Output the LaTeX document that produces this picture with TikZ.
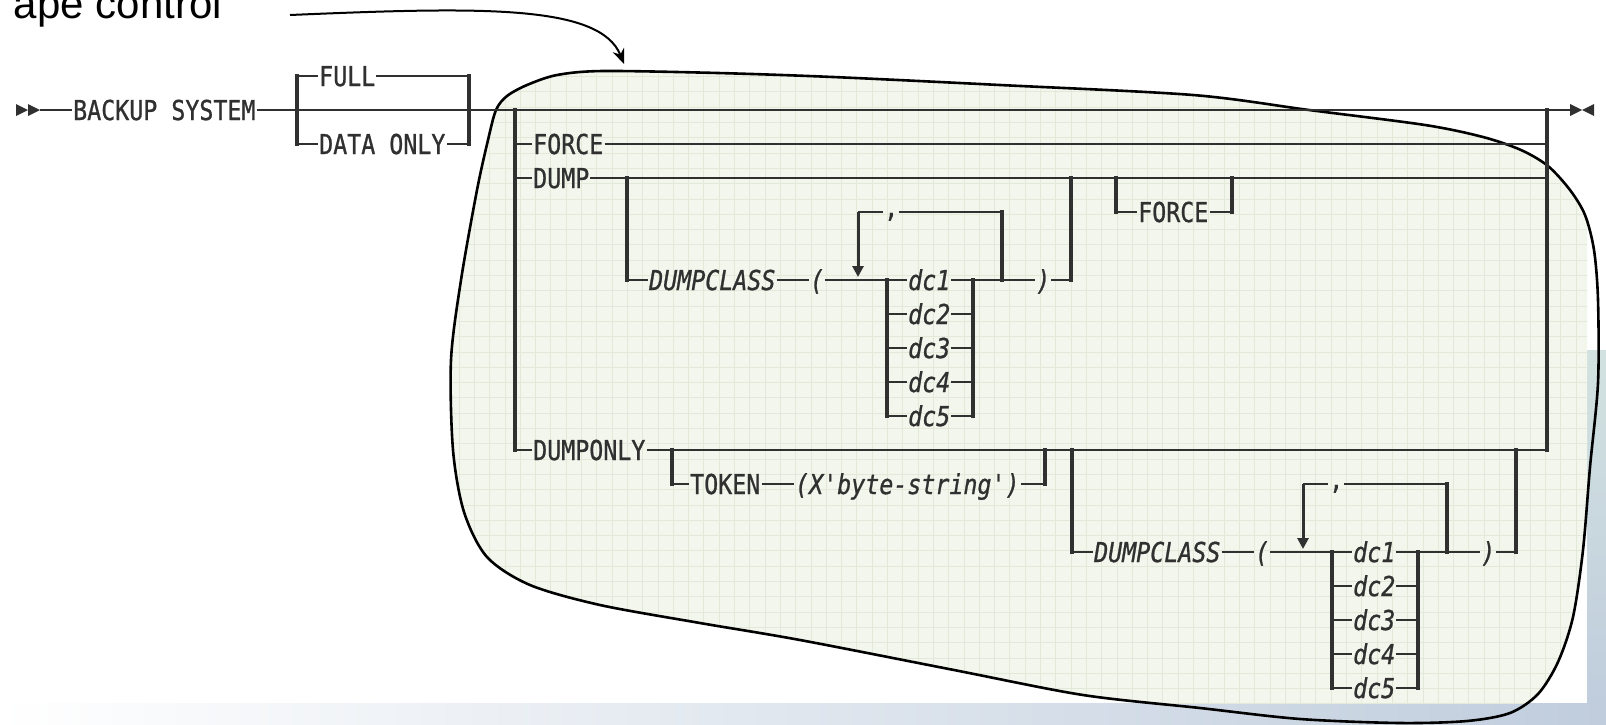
\documentclass[tikz,border=0pt]{standalone}
\usepackage{fontspec}
\setmainfont{Liberation Sans}
\newfontfamily\railfont{DejaVu Sans Mono}[FakeBold=1]
\usetikzlibrary{arrows.meta}

\definecolor{railgray}{HTML}{303030}
\definecolor{blobgreen}{HTML}{F3F6EC}
\definecolor{gridgreen}{HTML}{E2E9D8}
\definecolor{decoblue}{HTML}{C0CDDD}
\definecolor{decoteal}{HTML}{D2E2E0}

\newcommand{\kw}[1]{\scalebox{0.85}[1]{#1}}
\newcommand{\blobpath}{plot[smooth cycle, tension=0.5] coordinates {
  (496,110) (507,96) (527,85) (557,75) (603,71) (718,73) (833,77) (1000,85)
  (1193,95) (1309,110) (1425,125) (1483,137) (1521,150) (1548,166) (1570,190)
  (1585,215) (1594,250) (1598,300) (1598,383) (1590,467) (1583,550) (1573,617)
  (1558,662) (1538,694) (1510,713) (1467,721) (1400,723) (1300,719) (1200,708)
  (1083,695) (954,670) (800,640) (700,623) (600,605) (530,585) (487,557)
  (464,512) (453,450) (451,360) (461,280) (477,190) (488,140)}}

\tikzset{
  rail/.style={draw=railgray, line width=2pt},
  bar/.style={draw=railgray, line width=3.2pt, line cap=rect},
  kw/.style={inner xsep=1pt, inner ysep=0pt, text height=20pt, text depth=0pt,
    text=railgray, anchor=west, font=\railfont\fontsize{27.4pt}{27.4pt}\selectfont},
  var/.style={kw, font=\railfont\itshape\fontsize{27.4pt}{27.4pt}\selectfont},
  loopdown/.style={draw=railgray, line width=3pt, -{Triangle[length=11pt,width=11pt]}, shorten >=3pt},
}

\begin{document}
\begin{tikzpicture}[x=1pt, y=-1pt]
  \useasboundingbox (0,0) rectangle (1606,724);
  % Hintergrund
  \fill[white] (0,0) rectangle (1606,724);
  \shade[left color=white, right color=decoblue] (0,703) rectangle (1606,724);
  \shade[top color=decoteal, bottom color=decoblue] (1587,350) rectangle (1606,703);

  % Blase mit Raster
  \begin{scope}
    \clip (0,0) rectangle (1587,703);
    \fill[blobgreen] \blobpath;
    \clip \blobpath;
    \draw[gridgreen, line width=0.8pt, step=15.3pt] (420,45) grid (1606,724);
  \end{scope}
  \draw[black, line width=2.6pt] \blobpath;

  % Start und Ende
  \fill[railgray] (16,104) -- (28,110) -- (16,116) -- cycle;
  \fill[railgray] (28,104) -- (40,110) -- (28,116) -- cycle;
  \coordinate (start) at (40,110);
  \coordinate (stop) at (1570,110);
  \node[kw] (backup) at (72,110) {\kw{BACKUP SYSTEM}};
  \draw[rail] (start) -- (backup.west);
  \draw[rail] (backup.east) -- (stop);
  \fill[railgray] (1570,104) -- (1582,110) -- (1570,116) -- cycle;
  \fill[railgray] (1594,104) -- (1582,110) -- (1594,116) -- cycle;

  % FULL / DATA ONLY
  \coordinate (boxl) at (297,76);
  \coordinate (boxr) at (469,76);
  \node[kw] (full) at (318,76) {\kw{FULL}};
  \node[kw] (dataonly) at (318,144) {\kw{DATA ONLY}};
  \draw[bar] (boxl) -- (boxl |- dataonly);
  \draw[bar] (boxr) -- (boxr |- dataonly);
  \draw[rail] (boxl) -- (full.west);
  \draw[rail] (full.east) -- (boxr);
  \draw[rail] (boxl |- dataonly) -- (dataonly.west);
  \draw[rail] (dataonly.east) -- (boxr |- dataonly);

  % FORCE / DUMP / DUMPONLY
  \coordinate (gl) at (515,110);
  \coordinate (gr) at (1547,110);
  \node[kw] (force) at (532,144) {\kw{FORCE}};
  \node[kw] (dump) at (532,178) {\kw{DUMP}};
  \node[kw] (dumponly) at (532,450) {\kw{DUMPONLY}};
  \draw[bar] (gl) -- (gl |- dumponly);
  \draw[bar] (gr) -- (gr |- dumponly);
  \draw[rail] (gl |- force) -- (force.west);
  \draw[rail] (force.east) -- (gr |- force);
  \draw[rail] (gl |- dump) -- (dump.west);
  \draw[rail] (dump.east) -- (gr |- dump);
  \draw[rail] (gl |- dumponly) -- (dumponly.west);
  \draw[rail] (dumponly.east) -- (gr |- dumponly);

  % optionales FORCE nach DUMP
  \coordinate (fl) at (1116,178);
  \coordinate (fr) at (1232,178);
  \node[kw] (force2) at (1137,212) {\kw{FORCE}};
  \draw[bar] (fl) -- (fl |- force2);
  \draw[bar] (fr) -- (fr |- force2);
  \draw[rail] (fl |- force2) -- (force2.west);
  \draw[rail] (force2.east) -- (fr |- force2);

  % TOKEN
  \coordinate (tl) at (672,450);
  \coordinate (tr) at (1045,450);
  \node[kw] (token) at (689,484) {\kw{TOKEN}};
  \node[var] (bytes) at (794,484) {\kw{(X\textquotesingle byte-string\textquotesingle)}};
  \draw[bar] (tl) -- (tl |- token);
  \draw[bar] (tr) -- (tr |- bytes);
  \draw[rail] (tl |- token) -- (token.west);
  \draw[rail] (token.east) -- (bytes.west);
  \draw[rail] (bytes.east) -- (tr |- bytes);

  % DUMPCLASS unter DUMP
  \begin{scope}[shift={(627,178)}, name prefix=g1-]
    \coordinate (top) at (0,0);
    \coordinate (rtop) at (444,0);
    \coordinate (loopl) at (231,34);
    \coordinate (loopr) at (375,34);
    \coordinate (dcl) at (260,102);
    \coordinate (dcr) at (346,102);
    \node[var] (cls) at (21,102) {\kw{DUMPCLASS}};
    \node[var] (lp) at (182,102) {\kw{(}};
    \node[kw] (comma) at (256,29) {\kw{,}};
    \node[var] (dc1) at (280,102) {\kw{dc1}};
    \node[var] (dc2) at (280,136) {\kw{dc2}};
    \node[var] (dc3) at (280,170) {\kw{dc3}};
    \node[var] (dc4) at (280,204) {\kw{dc4}};
    \node[var] (dc5) at (280,238) {\kw{dc5}};
    \node[var] (rp) at (408,102) {\kw{)}};
    \draw[bar] (top) -- (top |- cls);
    \draw[rail] (top |- cls) -- (cls.west);
    \draw[rail] (cls.east) -- (lp.west);
    \draw[rail] (lp.east) -- (dc1.west);
    \draw[rail] (dc1.east) -- (rp.west);
    \draw[rail] (rp.east) -- (rtop |- rp);
    \draw[bar] (rtop |- rp) -- (rtop);
    % Wiederholung mit Komma
    \draw[rail] (loopl) -- (comma.west |- loopl);
    \draw[rail] (comma.east |- loopr) -- (loopr);
    \draw[bar] (loopr) -- (loopr |- rp);
    \draw[loopdown] (loopl) -- (loopl |- lp);
    % Auswahl dc1 bis dc5
    \draw[bar] (dcl) -- (dcl |- dc5);
    \draw[bar] (dcr) -- (dcr |- dc5);
    \draw[rail] (dcl |- dc2) -- (dc2.west);
    \draw[rail] (dc2.east) -- (dcr |- dc2);
    \draw[rail] (dcl |- dc3) -- (dc3.west);
    \draw[rail] (dc3.east) -- (dcr |- dc3);
    \draw[rail] (dcl |- dc4) -- (dc4.west);
    \draw[rail] (dc4.east) -- (dcr |- dc4);
    \draw[rail] (dcl |- dc5) -- (dc5.west);
    \draw[rail] (dc5.east) -- (dcr |- dc5);
  \end{scope}

  % DUMPCLASS unter DUMPONLY
  \begin{scope}[shift={(1072,450)}, name prefix=g2-]
    \coordinate (top) at (0,0);
    \coordinate (rtop) at (444,0);
    \coordinate (loopl) at (231,34);
    \coordinate (loopr) at (375,34);
    \coordinate (dcl) at (260,102);
    \coordinate (dcr) at (346,102);
    \node[var] (cls) at (21,102) {\kw{DUMPCLASS}};
    \node[var] (lp) at (182,102) {\kw{(}};
    \node[kw] (comma) at (256,29) {\kw{,}};
    \node[var] (dc1) at (280,102) {\kw{dc1}};
    \node[var] (dc2) at (280,136) {\kw{dc2}};
    \node[var] (dc3) at (280,170) {\kw{dc3}};
    \node[var] (dc4) at (280,204) {\kw{dc4}};
    \node[var] (dc5) at (280,238) {\kw{dc5}};
    \node[var] (rp) at (408,102) {\kw{)}};
    \draw[bar] (top) -- (top |- cls);
    \draw[rail] (top |- cls) -- (cls.west);
    \draw[rail] (cls.east) -- (lp.west);
    \draw[rail] (lp.east) -- (dc1.west);
    \draw[rail] (dc1.east) -- (rp.west);
    \draw[rail] (rp.east) -- (rtop |- rp);
    \draw[bar] (rtop |- rp) -- (rtop);
    % Wiederholung mit Komma
    \draw[rail] (loopl) -- (comma.west |- loopl);
    \draw[rail] (comma.east |- loopr) -- (loopr);
    \draw[bar] (loopr) -- (loopr |- rp);
    \draw[loopdown] (loopl) -- (loopl |- lp);
    % Auswahl dc1 bis dc5
    \draw[bar] (dcl) -- (dcl |- dc5);
    \draw[bar] (dcr) -- (dcr |- dc5);
    \draw[rail] (dcl |- dc2) -- (dc2.west);
    \draw[rail] (dc2.east) -- (dcr |- dc2);
    \draw[rail] (dcl |- dc3) -- (dc3.west);
    \draw[rail] (dc3.east) -- (dcr |- dc3);
    \draw[rail] (dcl |- dc4) -- (dc4.west);
    \draw[rail] (dc4.east) -- (dcr |- dc4);
    \draw[rail] (dcl |- dc5) -- (dc5.west);
    \draw[rail] (dc5.east) -- (dcr |- dc5);
  \end{scope}

  % Beschriftung mit Pfeil
  \node[font=\fontsize{42pt}{42pt}\selectfont, anchor=base east, inner sep=0pt] (tape) at (222,18) {ape control};
  \coordinate (cstart) at (290,15);
  \coordinate (ctip) at (624,64);
  \draw[line width=2pt, -{Stealth[length=15pt,width=12pt]}] (cstart) .. controls (480,7) and (600,4) .. (ctip);
\end{tikzpicture}
\end{document}
